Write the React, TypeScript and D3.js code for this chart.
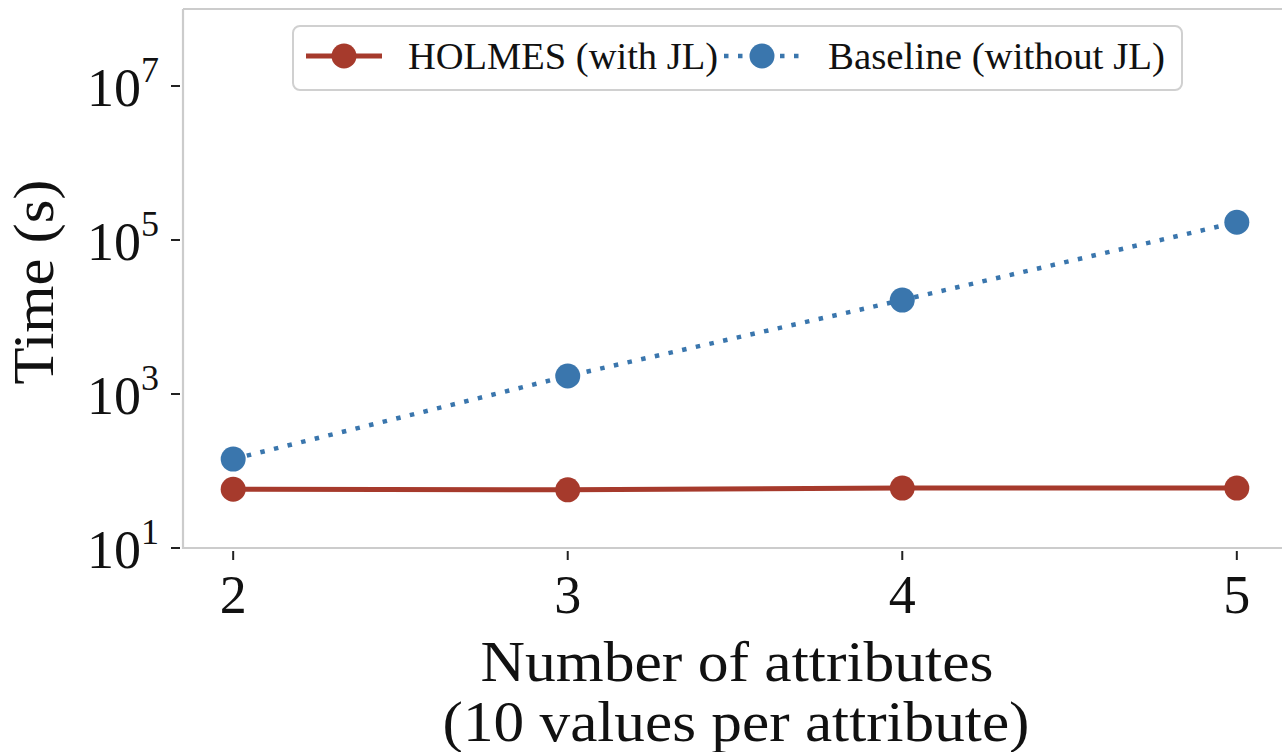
import React from 'react';
import * as d3 from 'd3';

// number of attributes (x) and measured run times in seconds (y, log)
const attributes = [2, 3, 4, 5];
const holmesTimes = [58, 57, 60, 60];
const baselineTimes = [143, 1714, 16600, 170000];
const yTickExps = [1, 3, 5, 7];
const seriesNames = ['HOLMES (with JL)', 'Baseline (without JL)'];

const RED = '#a63a2c';
const BLUE = '#3a76ad';
const FONT = '"Liberation Serif", "Times New Roman", serif';

const W = 1282;
const H = 752;
const left = 183;
const right = 1287;
const top = 9;
const bottom = 548;

const App = () => {
  const x = d3.scaleLinear().domain([1.85, 5.15]).range([left, right]);
  const y = d3.scaleLog().domain([10, 1e8]).range([bottom, top]);

  const line = d3.line<number>()
      .x((d, i) => x(attributes[i]))
      .y((d) => y(d));

  return (
    <div style={{position: 'absolute', left: 0, top: 0}}>
      <svg width={W} height={H} style={{display: 'block', background: '#fff'}}>
        {/* spines */}
        <g stroke="#cccccc" strokeWidth={2.2} fill="none">
          <line x1={left} x2={left} y1={top} y2={bottom + 1} />
          <line x1={left} x2={W} y1={bottom} y2={bottom} />
          <line x1={left} x2={W} y1={top} y2={top} />
        </g>

        {/* y ticks */}
        {yTickExps.map((e) => (
          <g key={e} transform={`translate(0,${y(Math.pow(10, e))})`}>
            <line x1={171} x2={180} stroke="#222" strokeWidth={2} />
            <text x={159} y={20} textAnchor="end" fontFamily={FONT} fontSize={54} fill="#111">
              <tspan>10</tspan>
              <tspan dy={-24} fontSize={36}>{e}</tspan>
            </text>
          </g>
        ))}

        {/* x ticks */}
        {attributes.map((a) => (
          <g key={a} transform={`translate(${x(a)},0)`}>
            <line y1={bottom + 3} y2={bottom + 12} stroke="#222" strokeWidth={2} />
            <text y={613} textAnchor="middle" fontFamily={FONT} fontSize={54} fill="#111">{a}</text>
          </g>
        ))}

        {/* series */}
        <path d={line(holmesTimes) || ''} fill="none" stroke={RED} strokeWidth={5} />
        {holmesTimes.map((v, i) => (
          <circle key={'h' + i} cx={x(attributes[i])} cy={y(v)} r={12.5} fill={RED} />
        ))}
        <path d={line(baselineTimes) || ''} fill="none" stroke={BLUE} strokeWidth={4.5}
          strokeDasharray="4.5 9.5" />
        {baselineTimes.map((v, i) => (
          <circle key={'b' + i} cx={x(attributes[i])} cy={y(v)} r={12.5} fill={BLUE} />
        ))}

        {/* legend */}
        <rect x={293} y={26} width={889} height={64} rx={7} fill="#fff" fillOpacity={0.8}
          stroke="#d0d0d0" strokeWidth={2} />
        <line x1={306} x2={382} y1={56} y2={56} stroke={RED} strokeWidth={5} />
        <circle cx={344} cy={56} r={12.5} fill={RED} />
        <text x={408} y={69} fontFamily={FONT} fontSize={38} fill="#111"
          textLength={310} lengthAdjust="spacingAndGlyphs">{seriesNames[0]}</text>
        <line x1={724} x2={800} y1={56} y2={56} stroke={BLUE} strokeWidth={4.5}
          strokeDasharray="4.5 9.5" />
        <circle cx={762} cy={56} r={12.5} fill={BLUE} />
        <text x={828} y={69} fontFamily={FONT} fontSize={38} fill="#111"
          textLength={337} lengthAdjust="spacingAndGlyphs">{seriesNames[1]}</text>

        {/* axis titles */}
        <text x={737} y={681} textAnchor="middle" fontFamily={FONT} fontSize={56} fill="#111"
          textLength={513} lengthAdjust="spacingAndGlyphs">Number of attributes</text>
        <text x={736} y={741} textAnchor="middle" fontFamily={FONT} fontSize={56} fill="#111"
          textLength={587} lengthAdjust="spacingAndGlyphs">(10 values per attribute)</text>
        <text transform="translate(53,282) rotate(-90)" textAnchor="middle" fontFamily={FONT}
          fontSize={56} fill="#111" textLength={205} lengthAdjust="spacingAndGlyphs">Time (s)</text>
      </svg>
    </div>
  );
};

export default App;
